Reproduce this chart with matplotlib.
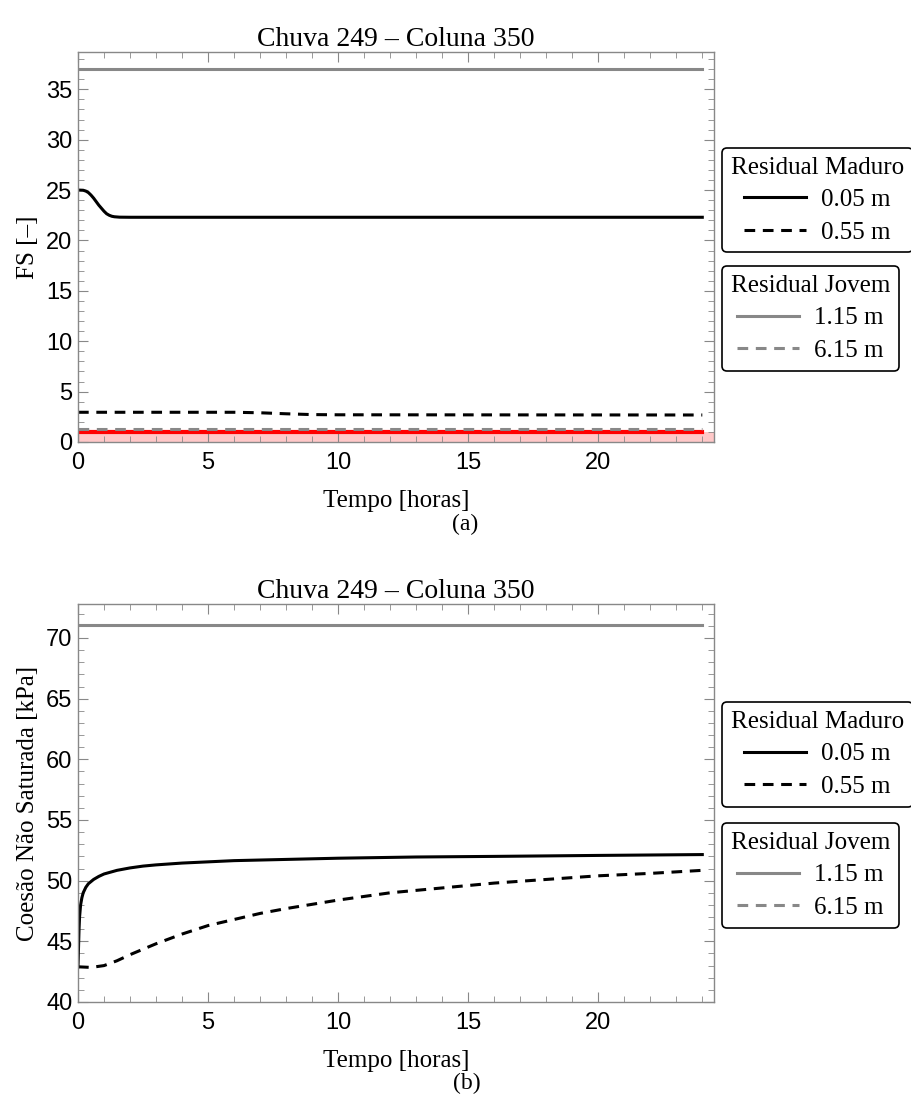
import numpy as np
import matplotlib
matplotlib.use("Agg")
import matplotlib.pyplot as plt
from matplotlib.lines import Line2D
from matplotlib.ticker import MultipleLocator

# ---- data ----
# panel (a): FS [-]
t_a_005 = [0, 0.2, 0.3, 0.4, 0.5, 0.6, 0.7, 0.8, 0.9, 1.0, 1.1, 1.2, 1.3, 1.4, 1.6, 2.0, 24.0]
fs_005 = [25.0, 24.98, 24.9, 24.75, 24.5, 24.2, 23.85, 23.5, 23.2, 22.9,
          22.65, 22.5, 22.4, 22.35, 22.31, 22.3, 22.3]
t_a_055 = [0, 6, 7, 8, 9, 10, 24]
fs_055 = [2.95, 2.95, 2.9, 2.8, 2.72, 2.7, 2.68]
t_a_115 = [0, 24]
fs_115 = [37.0, 37.0]
t_a_615 = [0, 24]
fs_615 = [1.25, 1.25]
fs_limit = 1.0

# panel (b): coesao nao saturada [kPa]
t_b_005 = [0, 0.01, 0.02, 0.04, 0.06, 0.1, 0.15, 0.2, 0.3, 0.4, 0.6, 0.8, 1.0,
           1.5, 2.0, 2.5, 3, 4, 5, 6, 8, 10, 13, 16, 20, 24]
c_005 = [42.9, 43.6, 44.5, 46.0, 47.0, 48.0, 48.6, 49.0, 49.45, 49.75, 50.1,
         50.35, 50.55, 50.85, 51.05, 51.2, 51.3, 51.45, 51.55, 51.65, 51.75,
         51.85, 51.95, 52.0, 52.08, 52.15]
t_b_055 = [0, 0.5, 1, 1.5, 2, 3, 4, 5, 6, 7, 8, 10, 12, 14, 16, 18, 20, 22, 24]
c_055 = [42.9, 42.85, 43.0, 43.4, 43.9, 44.8, 45.6, 46.3, 46.8, 47.3, 47.7,
         48.4, 49.0, 49.4, 49.8, 50.1, 50.4, 50.6, 50.85]
t_b_115 = [0, 24]
c_115 = [71.1, 71.1]

title = "Chuva 249 \u2013 Coluna 350"
GRAY = "#888888"
SERIF = "Liberation Serif"
SANS = "Liberation Sans"
DASH = (0, (3.5, 2.5))

fig = plt.figure(figsize=(9.11, 10.97), dpi=100)
W, H = 911, 1097


def add_axes(left, top, right, bottom):
    return fig.add_axes([left / W, 1 - bottom / H, (right - left) / W, (bottom - top) / H])


def style_axes(ax):
    for s in ax.spines.values():
        s.set_color(GRAY)
        s.set_linewidth(1.0)
    ax.tick_params(which="both", direction="in", top=True, right=True,
                   color=GRAY, labelsize=17)
    ax.tick_params(axis="x", pad=7)
    ax.tick_params(axis="y", pad=4)
    ax.tick_params(which="major", length=7)
    ax.tick_params(which="minor", length=4)
    for lab in ax.get_xticklabels() + ax.get_yticklabels():
        lab.set_fontfamily(SANS)
    ax.xaxis.set_major_locator(MultipleLocator(5))
    ax.xaxis.set_minor_locator(MultipleLocator(1))
    ax.yaxis.set_major_locator(MultipleLocator(5))
    ax.yaxis.set_minor_locator(MultipleLocator(1))


def add_legends(top1, top2):
    h_mad = [Line2D([], [], color="black", lw=2.2),
             Line2D([], [], color="black", lw=2.2, ls=DASH)]
    h_jov = [Line2D([], [], color=GRAY, lw=2.2),
             Line2D([], [], color=GRAY, lw=2.2, ls=DASH)]
    for handles, labels, ttl, top in [
        (h_mad, ["0.05 m", "0.55 m"], "Residual Maduro", top1),
        (h_jov, ["1.15 m", "6.15 m"], "Residual Jovem", top2),
    ]:
        leg = fig.legend(handles, labels, title=ttl, loc="upper left",
                         bbox_to_anchor=(722 / W, 1 - top / H),
                         prop={"family": SERIF, "size": 18},
                         title_fontproperties={"family": SERIF, "size": 18},
                         frameon=True, fancybox=True, edgecolor="black",
                         framealpha=1, handlelength=2.5, handletextpad=0.6,
                         borderpad=0.35, labelspacing=0.4, borderaxespad=0)
        leg.get_frame().set_linewidth(1.2)


# ---- panel (a) ----
ax1 = add_axes(78, 52, 714, 442)
ax1.axhspan(0, fs_limit, color="#ffc8c8", lw=0)
ax1.plot([0, 24], [fs_limit, fs_limit], color="red", lw=3)
ax1.plot(t_a_615, fs_615, color=GRAY, lw=2.2, ls=DASH)
ax1.plot(t_a_115, fs_115, color=GRAY, lw=2.2)
ax1.plot(t_a_055, fs_055, color="black", lw=2.2, ls=DASH)
ax1.plot(t_a_005, fs_005, color="black", lw=2.2)
ax1.set_xlim(0, 24.45)
ax1.set_ylim(0, 38.7)
style_axes(ax1)
ax1.set_title(title, fontfamily=SERIF, fontsize=20, pad=3)
ax1.set_xlabel("Tempo [horas]", fontfamily=SERIF, fontsize=18, labelpad=12)
ax1.set_ylabel("FS [\u2013]", fontfamily=SERIF, fontsize=18, labelpad=5)
fig.text(465 / W, 1 - 524 / H, "(a)", fontfamily=SERIF, fontsize=17,
         ha="center", va="center")
add_legends(148, 266)

# ---- panel (b) ----
ax2 = add_axes(78, 604, 714, 1002)
ax2.plot(t_b_115, c_115, color=GRAY, lw=2.2)
ax2.plot(t_b_055, c_055, color="black", lw=2.2, ls=DASH)
ax2.plot(t_b_005, c_005, color="black", lw=2.2)
ax2.set_xlim(0, 24.45)
ax2.set_ylim(40, 72.8)
style_axes(ax2)
ax2.set_title(title, fontfamily=SERIF, fontsize=20, pad=3)
ax2.set_xlabel("Tempo [horas]", fontfamily=SERIF, fontsize=18, labelpad=12)
ax2.set_ylabel("Coes\u00e3o N\u00e3o Saturada [kPa]", fontfamily=SERIF, fontsize=18, labelpad=5)
fig.text(467 / W, 1 - 1083 / H, "(b)", fontfamily=SERIF, fontsize=17,
         ha="center", va="center")
add_legends(702, 823)

fig.savefig("out.png", dpi=100)
